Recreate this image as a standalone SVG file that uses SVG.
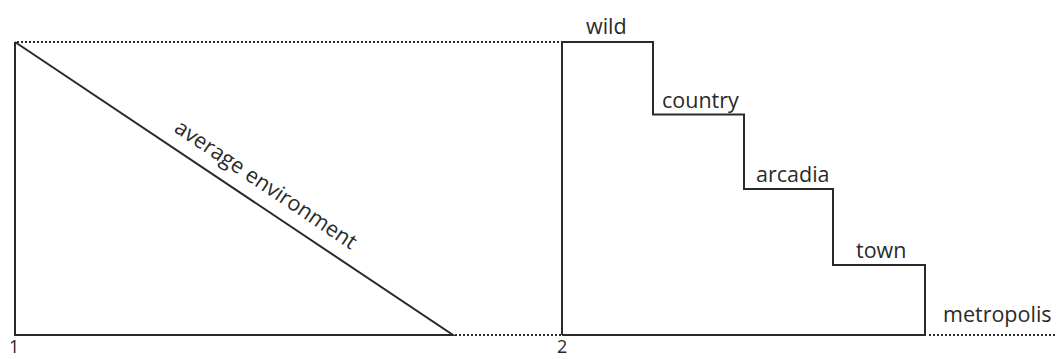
<svg xmlns="http://www.w3.org/2000/svg" width="1056" height="359" viewBox="0 0 1056 359">
<style>
.ln{fill:none;stroke:#2a2a2a;stroke-width:2;stroke-linejoin:miter}
.dot{fill:none;stroke:#2a2a2a;stroke-width:2;stroke-dasharray:2 2}
text{font-family:"Open Sans","Noto Sans",sans-serif;font-size:21.5px;fill:#2a2a2a}
.num{font-size:18px}
</style>
<rect width="1056" height="359" fill="#fff"/>
<g id="connectors">
<path class="dot" d="M17 42H562"/>
<path class="dot" d="M455 335H562"/>
<path class="dot" d="M929 335H1056"/>
</g>
<g id="panel1">
<path class="ln" d="M15 42V335H453L15 42"/>
<text transform="translate(173,131) rotate(33.8)">average environment</text>
<text class="num" x="9" y="353">1</text>
</g>
<g id="panel2">
<path class="ln" d="M562 335V42H653V114.5H744V189H833V265H925V335H562"/>
<text x="586" y="34">wild</text>
<text x="662" y="108">country</text>
<text x="756" y="182">arcadia</text>
<text x="856" y="258">town</text>
<text x="943" y="322">metropolis</text>
<text class="num" x="557" y="353">2</text>
</g>
</svg>
